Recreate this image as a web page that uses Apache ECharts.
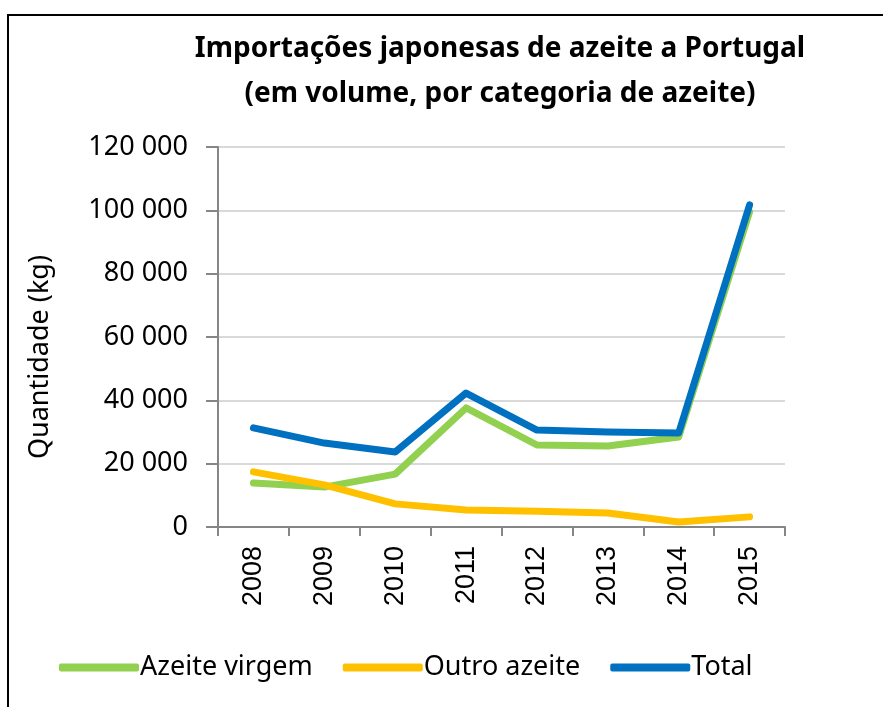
<!DOCTYPE html>
<html>
<head>
<meta charset="utf-8">
<script src="https://cdn.jsdelivr.net/npm/echarts@6/dist/echarts.min.js"></script>
<style>
  html, body { margin: 0; padding: 0; background: #fff; }
  #frame { position: absolute; left: 7px; top: 14px; width: 900px; height: 720px; border: 2px solid #000; box-sizing: border-box; }
  #chart { position: absolute; left: 0; top: 0; width: 883px; height: 707px; }
</style>
</head>
<body>
<div id="frame"></div>
<div id="chart"></div>
<script>
// anos
const years = ['2008', '2009', '2010', '2011', '2012', '2013', '2014', '2015'];
// kg
const virgem = [13900, 12600, 16700, 37600, 25900, 25600, 28400, 99500];
const outro = [17400, 13300, 7300, 5400, 5000, 4400, 1600, 3200];
const total = [31300, 26500, 23700, 42300, 30600, 30000, 29700, 101700];

const chart = echarts.init(document.getElementById('chart'));
const fmt = v => String(v).replace(/\B(?=(\d{3})+(?!\d))/g, ' ');

chart.setOption({
  animation: false,
  title: {
    text: 'Importações japonesas de azeite a Portugal\n(em volume, por categoria de azeite)',
    left: 495,
    top: 22,
    textAlign: 'center',
    textStyle: { fontFamily: 'Noto Sans', fontWeight: 'bold', fontSize: 28, lineHeight: 45, color: '#000' }
  },
  legend: {
    top: 649,
    left: 54,
    itemWidth: 80,
    itemHeight: 8,
    itemGap: 30,
    icon: 'roundRect',
    textStyle: { fontFamily: 'Noto Sans', fontSize: 27, color: '#000', padding: [0, 0, 0, -4] },
    data: ['Azeite virgem', 'Outro azeite', 'Total']
  },
  grid: { left: 218, right: 98, top: 147, bottom: 180 },
  xAxis: {
    type: 'category',
    data: years,
    boundaryGap: true,
    axisLine: { lineStyle: { color: '#868686', width: 2 } },
    axisTick: { show: true, length: 9, lineStyle: { color: '#868686', width: 2 } },
    axisLabel: { rotate: 90, margin: 19, fontFamily: 'Liberation Sans', fontSize: 27, color: '#000' }
  },
  yAxis: {
    type: 'value',
    min: 0,
    max: 120000,
    interval: 20000,
    name: 'Quantidade (kg)',
    nameLocation: 'middle',
    nameGap: 164,
    nameTextStyle: { fontFamily: 'Noto Sans', fontSize: 27, color: '#000', padding: [0, 0, 0, -40] },
    axisLine: { show: true, lineStyle: { color: '#868686', width: 2 } },
    axisTick: { show: true, length: 12, lineStyle: { color: '#868686', width: 2 } },
    splitLine: { lineStyle: { color: '#d9d9d9', width: 2 } },
    axisLabel: { margin: 30, fontFamily: 'Noto Sans', fontSize: 27, color: '#000', formatter: fmt }
  },
  series: [
    { name: 'Azeite virgem', type: 'line', data: virgem, symbol: 'none', color: '#92d050', lineStyle: { width: 7, cap: 'round', join: 'round' } },
    { name: 'Outro azeite', type: 'line', data: outro, symbol: 'none', color: '#ffc000', lineStyle: { width: 7, cap: 'round', join: 'round' } },
    { name: 'Total', type: 'line', data: total, symbol: 'none', color: '#0070c0', lineStyle: { width: 7, cap: 'round', join: 'round' } }
  ]
});
</script>
</body>
</html>
